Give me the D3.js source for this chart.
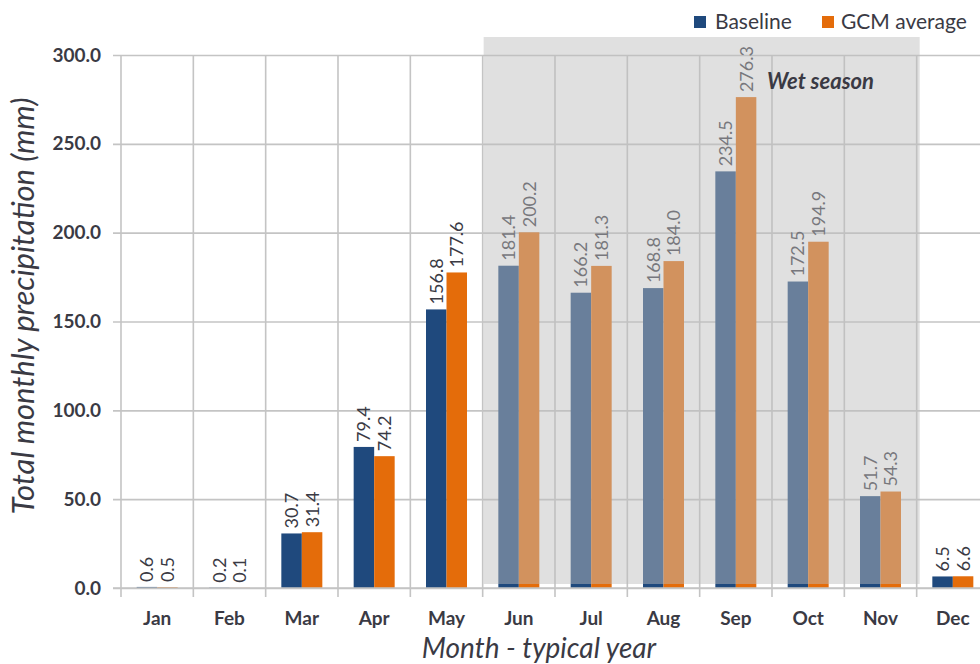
<!DOCTYPE html>
<html>
<head>
<meta charset="utf-8">
<script src="https://cdn.jsdelivr.net/npm/d3@7/dist/d3.min.js"></script>
<style>
  html, body { margin: 0; padding: 0; background: #ffffff; }
  svg { display: block; font-family: Lato, "Open Sans", sans-serif; }
</style>
</head>
<body>
<svg id="chart" width="980" height="664"></svg>
<script>
// Monthly precipitation for a typical year (mm)
const months = ["Jan", "Feb", "Mar", "Apr", "May", "Jun", "Jul", "Aug", "Sep", "Oct", "Nov", "Dec"];
const baseline = [0.6, 0.2, 30.7, 79.4, 156.8, 181.4, 166.2, 168.8, 234.5, 172.5, 51.7, 6.5];
const gcmAverage = [0.5, 0.1, 31.4, 74.2, 177.6, 200.2, 181.3, 184.0, 276.3, 194.9, 54.3, 6.6];
const yTicks = [0, 50, 100, 150, 200, 250, 300];
const seriesNames = ["Baseline", "GCM average"];
const wetSeason = ["Jun", "Nov"];

const colors = { "Baseline": "#1f497d", "GCM average": "#e46c0a" };
const textColor = "#3a3a44";
const gridColor = "#c4c4c4";

const svg = d3.select("#chart");
const plotLeft = 121, plotRight = 989, plotTop = 55, plotBottom = 588;

const x = d3.scaleBand().domain(months).range([plotLeft, plotRight]).padding(0);
const groupW = 41;
const xs = d3.scaleBand().domain(seriesNames)
  .range([(x.bandwidth() - groupW) / 2, (x.bandwidth() + groupW) / 2]).padding(0);
const y = d3.scaleLinear().domain([0, 300]).range([plotBottom, plotTop]);

const rows = months.map((m, i) => ({
  month: m,
  values: [
    { key: "Baseline", value: baseline[i] },
    { key: "GCM average", value: gcmAverage[i] }
  ]
}));

// Horizontal gridlines, starting a little left of the plot as ticks
const yAxis = d3.axisLeft(y).tickValues(yTicks).tickSize(0).tickPadding(12)
  .tickFormat(d3.format(".1f"));
const gy = svg.append("g").attr("transform", `translate(${plotLeft - 8},0)`).call(yAxis);
gy.select(".domain").remove();
gy.selectAll(".tick line").attr("stroke", gridColor).attr("stroke-width", 1.6)
  .attr("x1", 0).attr("x2", plotRight - plotLeft + 8);
gy.selectAll(".tick text").attr("fill", textColor).attr("font-size", 19).attr("font-weight", 700)
  .attr("font-family", "Lato, sans-serif");

// Vertical gridlines at category boundaries, extending below the axis as ticks
const bounds = months.map(m => x(m)).concat([plotRight]);
svg.append("g").selectAll("line").data(bounds).join("line")
  .attr("x1", d => d).attr("x2", d => d)
  .attr("y1", plotTop).attr("y2", plotBottom + 9)
  .attr("stroke", gridColor).attr("stroke-width", 1.6);

// Bars
const groups = svg.append("g").selectAll("g").data(rows).join("g")
  .attr("transform", d => `translate(${x(d.month)},0)`);
groups.selectAll("rect").data(d => d.values).join("rect")
  .attr("x", d => xs(d.key))
  .attr("width", xs.bandwidth())
  .attr("y", d => y(d.value))
  .attr("height", d => y(0) - y(d.value))
  .attr("fill", d => colors[d.key]);

// Value labels, rotated above each bar
groups.selectAll("text").data(d => d.values).join("text")
  .attr("transform", d => `translate(${xs(d.key) + xs.bandwidth() / 2 + 6.5},${y(d.value) - 5}) rotate(-90)`)
  .attr("text-anchor", "start")
  .attr("font-size", 18)
  .attr("fill", textColor)
  .text(d => d.value.toFixed(1));

// Baseline axis line
svg.append("line").attr("x1", plotLeft - 8).attr("x2", 980)
  .attr("y1", plotBottom).attr("y2", plotBottom)
  .attr("stroke", gridColor).attr("stroke-width", 1.6);

// Month labels
svg.append("g").selectAll("text").data(months).join("text")
  .attr("x", d => x(d) + x.bandwidth() / 2)
  .attr("y", 625)
  .attr("text-anchor", "middle")
  .attr("font-size", 19).attr("font-weight", 700)
  .attr("fill", textColor)
  .text(d => d);

// Wet season shading drawn over the bars
const wx0 = x(wetSeason[0]) + 1;
const wx1 = x(wetSeason[1]) + x.bandwidth() + 3;
svg.append("rect")
  .attr("x", wx0).attr("width", wx1 - wx0)
  .attr("y", y(300) - 18).attr("height", (y(0) - 4) - (y(300) - 18))
  .attr("fill", "#bdbdbd").attr("fill-opacity", 0.47);

svg.append("text")
  .attr("x", 767).attr("y", 89)
  .attr("font-size", 22).attr("font-style", "italic").attr("font-weight", 700)
  .attr("fill", "#3a3a44")
  .text("Wet season");

// Axis titles
svg.append("text")
  .attr("x", 539).attr("y", 658)
  .attr("text-anchor", "middle")
  .attr("font-size", 28).attr("font-style", "italic")
  .attr("fill", textColor)
  .text("Month - typical year");

svg.append("text")
  .attr("transform", `translate(34,306) rotate(-90)`)
  .attr("text-anchor", "middle")
  .attr("font-size", 31).attr("font-style", "italic")
  .attr("fill", textColor)
  .text("Total monthly precipitation (mm)");

// Legend
const legend = svg.append("g");
const legendItems = [
  { key: "Baseline", sx: 694, tx: 715 },
  { key: "GCM average", sx: 822, tx: 841 }
];
legend.selectAll("rect").data(legendItems).join("rect")
  .attr("x", d => d.sx).attr("y", 16).attr("width", 12).attr("height", 12)
  .attr("fill", d => colors[d.key]);
legend.selectAll("text").data(legendItems).join("text")
  .attr("x", d => d.tx).attr("y", 29)
  .attr("font-size", 21)
  .attr("fill", textColor)
  .text(d => d.key);
</script>
</body>
</html>
